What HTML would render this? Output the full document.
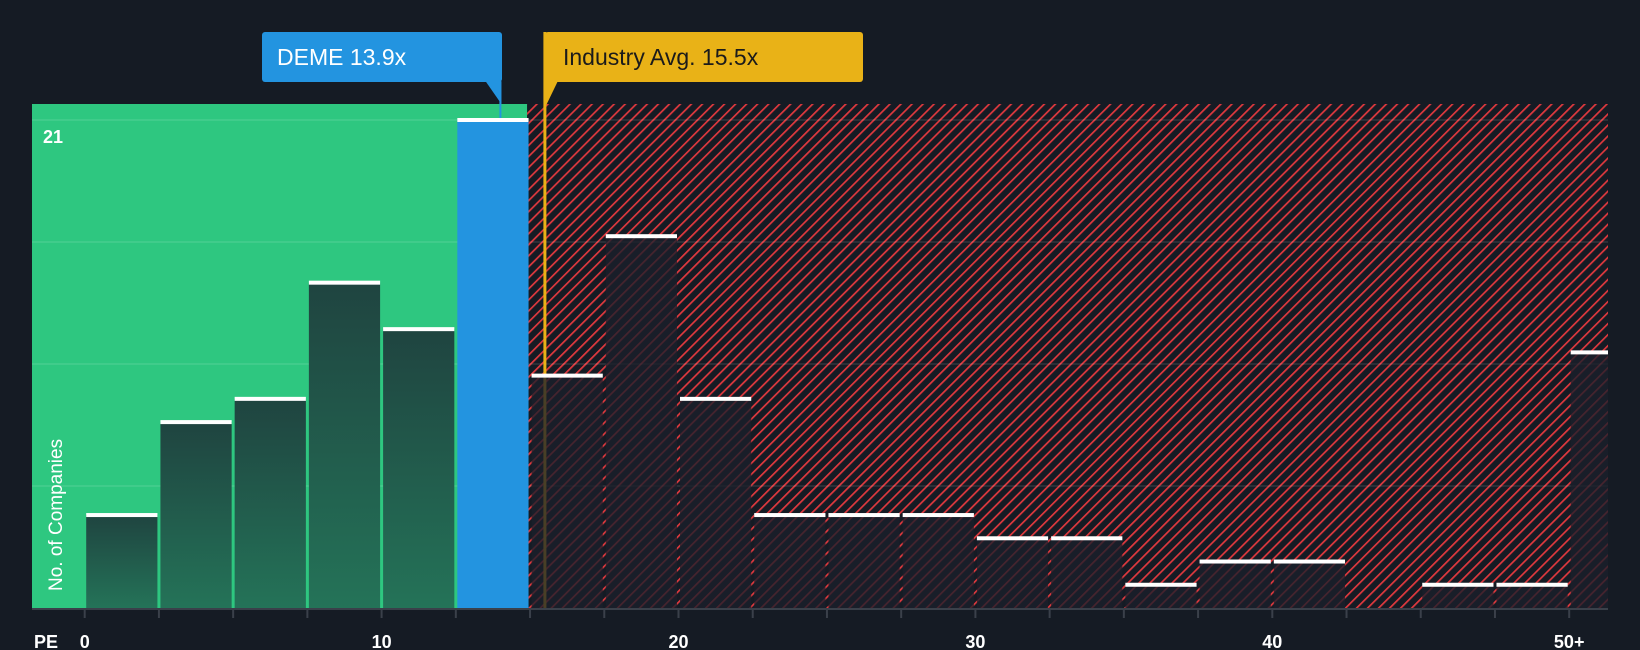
<!DOCTYPE html>
<html><head><meta charset="utf-8"><style>
html,body{margin:0;padding:0;background:#151b24;width:1640px;height:650px;overflow:hidden}
svg{display:block}
text{font-family:"Liberation Sans",sans-serif}
</style></head><body>
<svg id="chart" width="1640" height="650" xmlns="http://www.w3.org/2000/svg">
<defs>
<pattern id="hatch" patternUnits="userSpaceOnUse" width="7.8" height="7.8" patternTransform="rotate(45)">
<rect x="0" y="0" width="1.7" height="7.8" fill="#e0393e"/>
</pattern>
<linearGradient id="gbar" x1="0" y1="0" x2="0" y2="1">
<stop offset="0" stop-color="#1f4440"/><stop offset="1" stop-color="#247358"/>
</linearGradient>
</defs>
<g id="plot"></g>
</svg>
<script>
const binStarts=[0,2.5,5,7.5,10,12.5,15,17.5,20,22.5,25,27.5,30,32.5,35,37.5,40,42.5,45,47.5,50];
const counts=[4,8,9,14,12,21,10,16,9,4,4,4,3,3,1,2,2,0,1,1,11];
const xTickLabels=["0","10","20","30","40","50+"];
const xTickValues=[0,10,20,30,40,50];
const companyPE=[13.9];
const industryPE=[15.5];
const yMax=21;

const L=32,R=1608,T=104,B=608;
const x=v=>84.7+v*29.69;
const y=v=>B-v*(B-120)/yMax;
const NS="http://www.w3.org/2000/svg";
const g=document.getElementById('plot');
function mk(tag,attrs,parent){const e=document.createElementNS(NS,tag);for(const k in attrs)e.setAttribute(k,attrs[k]);(parent||g).appendChild(e);return e;}

const splitX=x(15)-3;
let e=mk('rect',{x:L,y:T,width:splitX-L,height:B-T,fill:'#2ec780'});


e=mk('rect',{x:splitX,y:T,width:R-splitX,height:B-T,fill:'url(#hatch)'});


for(let k=1;k<=4;k++){
  const gy=y(yMax*k/4);
  e=mk('line',{x1:L,x2:R,y1:gy,y2:gy,stroke:'rgba(255,255,255,0.12)','stroke-width':1.5});
  
  
}
const ix=x(industryPE[0]);
e=mk('line',{x1:ix,x2:ix,y1:32,y2:B,stroke:'#e9b217','stroke-width':3});


binStarts.forEach((s,i)=>{
  const v=counts[i];
  const bx=x(s)+1.5, bw=(s===50?R-x(s)-1.5:x(s+2.5)-x(s)-3);
  const by=y(v);
  const isCo=companyPE[0]>=s&&companyPE[0]<s+2.5;
  const inGreen=s+2.5<=15;
  let fill=isCo?'#2394e0':(inGreen?'url(#gbar)':'rgba(27,31,42,0.78)');
  if(v>0){
    const r=mk('rect',{x:bx,y:by,width:bw,height:B-by,fill:fill});
    
    
    const c=mk('rect',{x:bx,y:by-2,width:bw,height:4,fill:'#ffffff'});
    
    
  }
});
e=mk('line',{x1:L,x2:R,y1:B+1,y2:B+1,stroke:'#3a404a','stroke-width':2});


binStarts.forEach(s=>{
  const t=mk('line',{x1:x(s),x2:x(s),y1:B,y2:B+10,stroke:'#3a404a','stroke-width':2});
  
  
});
xTickValues.forEach((v,i)=>{
  const t=mk('text',{x:x(v),y:648,'text-anchor':i===0?'start':'middle',fill:'#fff','font-size':18,'font-weight':'bold'});
  if(i===0)t.setAttribute('x',x(v)-5);
  t.textContent=xTickLabels[i];
  
  
});
e=mk('text',{x:34,y:648,fill:'#fff','font-size':18,'font-weight':'bold'});e.textContent='PE';


e=mk('text',{x:43,y:143,fill:'#fff','font-size':18,'font-weight':'bold'});e.textContent=String(yMax);


e=mk('text',{x:0,y:0,fill:'#fff','font-size':19,transform:'translate(62,591) rotate(-90)'});e.textContent='No. of Companies';


const cx=x(companyPE[0]);
e=mk('line',{x1:cx+3,x2:cx+3,y1:82,y2:y(yMax)-2,stroke:'#2394e0','stroke-width':2});


e=mk('rect',{x:262,y:32,width:240,height:50,rx:3,fill:'#2394e0'});


e=mk('path',{d:`M${cx-12},81 L${cx+4},81 L${cx+4},104 Z`,fill:'#2394e0'});


e=mk('text',{x:277,y:65,fill:'#fff','font-size':23});e.textContent='DEME 13.9x';


e=mk('rect',{x:545,y:32,width:318,height:50,rx:3,fill:'#e9b217'});


e=mk('path',{d:`M${ix-1},81 L${ix+13},81 L${ix-1},110 Z`,fill:'#e9b217'});


e=mk('text',{x:563,y:65,fill:'#1b1b1b','font-size':23});e.textContent='Industry Avg. 15.5x';


</script>
</body></html>
